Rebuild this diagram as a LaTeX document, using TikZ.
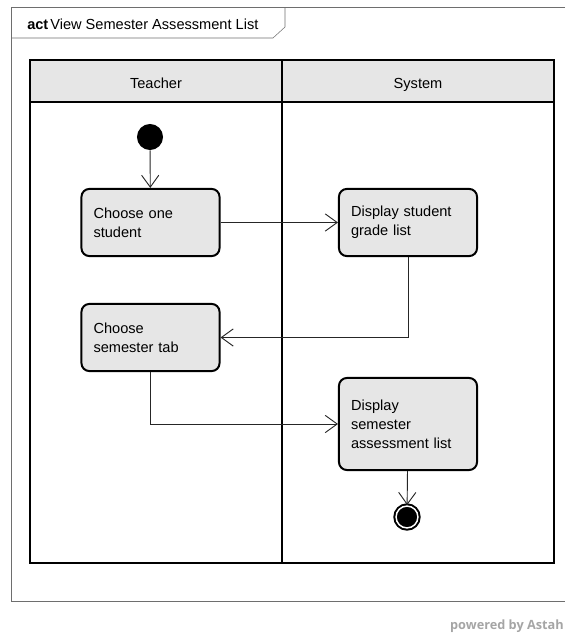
\documentclass[tikz,border=0pt]{standalone}
\usepackage{fontspec}
\setmainfont{Liberation Sans}
\newfontfamily\astahfont{Open Sans}
\usepackage{xcolor}
\usepackage{tikz}
\usetikzlibrary{arrows.meta}
\definecolor{laneGray}{RGB}{230,230,230}
\definecolor{frameGray}{RGB}{110,110,110}
\definecolor{markGray}{RGB}{165,165,165}

\begin{document}
\begin{tikzpicture}[x=0.0265cm,y=-0.0265cm,
    action/.style={draw,line width=1.5pt,rounded corners=6pt,fill=laneGray,
      text width=3.02cm,align=left,inner xsep=0.32cm,minimum height=1.78cm},
    startnode/.style={circle,fill=black,minimum size=0.69cm,inner sep=0pt},
    endnode/.style={circle,fill=black,draw=black,line width=1.5pt,
      double=white,double distance=1.1pt,minimum size=16.5pt,inner sep=0pt},
    flow/.style={draw=black!85,line width=0.7pt,-{Straight Barb[length=9pt,width=13pt]}},
    lane/.style={line width=1.5pt}]
    \useasboundingbox (0,0) rectangle (565,634);
    \fontsize{11}{14.3}\selectfont
    \draw[color=frameGray] (565,7) -| (11,601) -- (565,601);
    \draw[color=frameGray] (11,38) -- (273,38) -- (285,27) -- (285,7);
    \node[anchor=base west,inner sep=0pt] (title) at (27,29)
    {\textbf{act}\kern1.5pt View Semester Assessment List};
    \draw[lane,fill=laneGray] (30,60) rectangle (554,102);
    \draw[lane] (30,102) rectangle (554,563);
    \draw[lane] (282,60) -- (282,563);
    \node[anchor=base] (teacher) at (156,88) {Teacher};
    \node[anchor=base] (system) at (418,88) {System};
    \node[startnode] (start) at (150,137) {};
    \node[action] (choose) at (150.5,222.5) {Choose one\\student};
    \node[action] (grade) at (408,222.5) {Display student\\grade list};
    \node[action] (semtab) at (150.5,337.5) {Choose\\semester tab};
    \node[action,minimum height=2.44cm] (semlist) at (408,424)
    {Display\\semester\\assessment list};
    \node[endnode] (finish) at (407,517) {};
    \draw[flow] (start) -- (choose);
    \draw[flow] (choose) -- (grade);
    \draw[flow] (grade.south) |- (semtab.east);
    \draw[flow] (semtab.south) |- (semlist.west);
    \draw[flow] (semlist) -- (finish);
    \node[anchor=base east,inner sep=0pt,text=markGray,
      font=\astahfont\fontsize{9.6}{11}\selectfont\bfseries] (astah) at (564,629)
    {powered by Astah};
\end{tikzpicture}
\end{document}
